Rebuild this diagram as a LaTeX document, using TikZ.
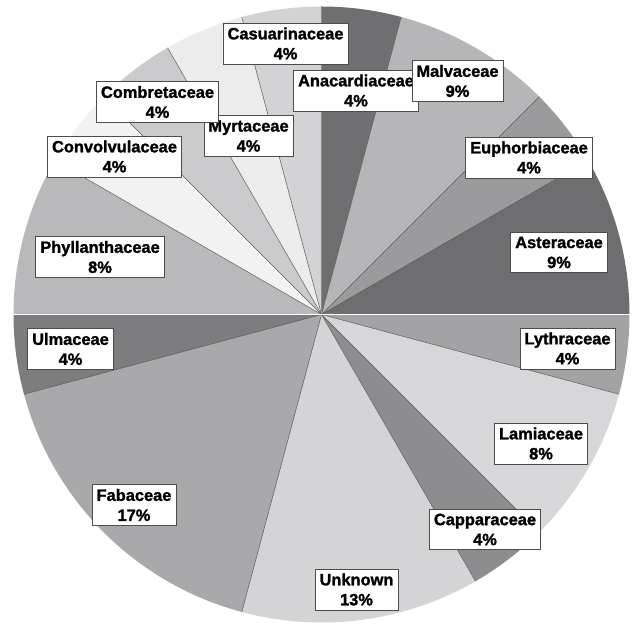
\documentclass[tikz,border=0pt]{standalone}
\usepackage{fontspec}
\setmainfont{Liberation Sans}[BoldFeatures={FakeBold=1.5}]
\begin{document}
\begin{tikzpicture}[x=1pt,y=1pt,
  lbl/.style={draw=black!70, line width=0.7pt, fill=white, align=center,
    font=\fontsize{16.4}{20}\selectfont\bfseries, inner xsep=4.5pt, inner ysep=4.5pt},
  sep/.style={draw=black!65, line width=0.5pt}]
\useasboundingbox (0,0) rectangle (632,624);
\coordinate (C) at (321.5,309.5);
\def\R{308}
% slices: start angle / end angle / colour (standard angles, clockwise order)
\foreach \a/\b/\c in {
  90/75/6f6f71, 75/45/b6b6b8, 45/30/9b9b9d, 30/0/6e6e70,
  0/-15/a3a3a5, -15/-45/d7d7d9, -45/-60/8d8d8f, -60/-105/d4d4d6,
  -105/-165/a9a9ab, -165/-180/7d7d7f, 180/150/b9b9bb, 150/135/f2f2f2,
  135/120/cbcbcd, 120/105/ececec, 105/90/d3d3d5}{
  \definecolor{slicecol}{HTML}{\c}
  \fill[slicecol] (C) -- ++(\a:\R) arc[start angle=\a, end angle=\b, radius=\R] -- cycle;
}
% radial separators
\foreach \a in {75,45,30,-15,-45,-60,-105,-165,150,135,120,105}{
  \draw[sep] (C) -- ++(\a:\R);
}
\draw[black!45, line width=0.4pt] (C) -- ++(90:\R);
\draw[white, line width=0.9pt] (C) -- ++(0:\R);
\draw[white, line width=0.9pt] (C) -- ++(180:\R);
% labels
\node[lbl] (cas) at (285.5,580.5) {Casuarinaceae\\4\%};
\node[lbl] (ana) at (356,533.5) {Anacardiaceae\\4\%};
\node[lbl] (myr) at (248.5,488) {Myrtaceae\\4\%};
\node[lbl] (mal) at (457.5,543) {Malvaceae\\9\%};
\node[lbl] (eup) at (529,466.5) {Euphorbiaceae\\4\%};
\node[lbl] (ast) at (559,371.5) {Asteraceae\\9\%};
\node[lbl] (com) at (157.5,522) {Combretaceae\\4\%};
\node[lbl] (con) at (114.5,467.5) {Convolvulaceae\\4\%};
\node[lbl] (phy) at (100,367) {Phyllanthaceae\\8\%};
\node[lbl] (lyt) at (567.5,275.5) {Lythraceae\\4\%};
\node[lbl] (lam) at (541,180.5) {Lamiaceae\\8\%};
\node[lbl] (cap) at (485,94.5) {Capparaceae\\4\%};
\node[lbl] (unk) at (356.5,34.5) {Unknown\\13\%};
\node[lbl] (ulm) at (70.5,275) {Ulmaceae\\4\%};
\node[lbl] (fab) at (134,119) {Fabaceae\\17\%};
\end{tikzpicture}
\end{document}
